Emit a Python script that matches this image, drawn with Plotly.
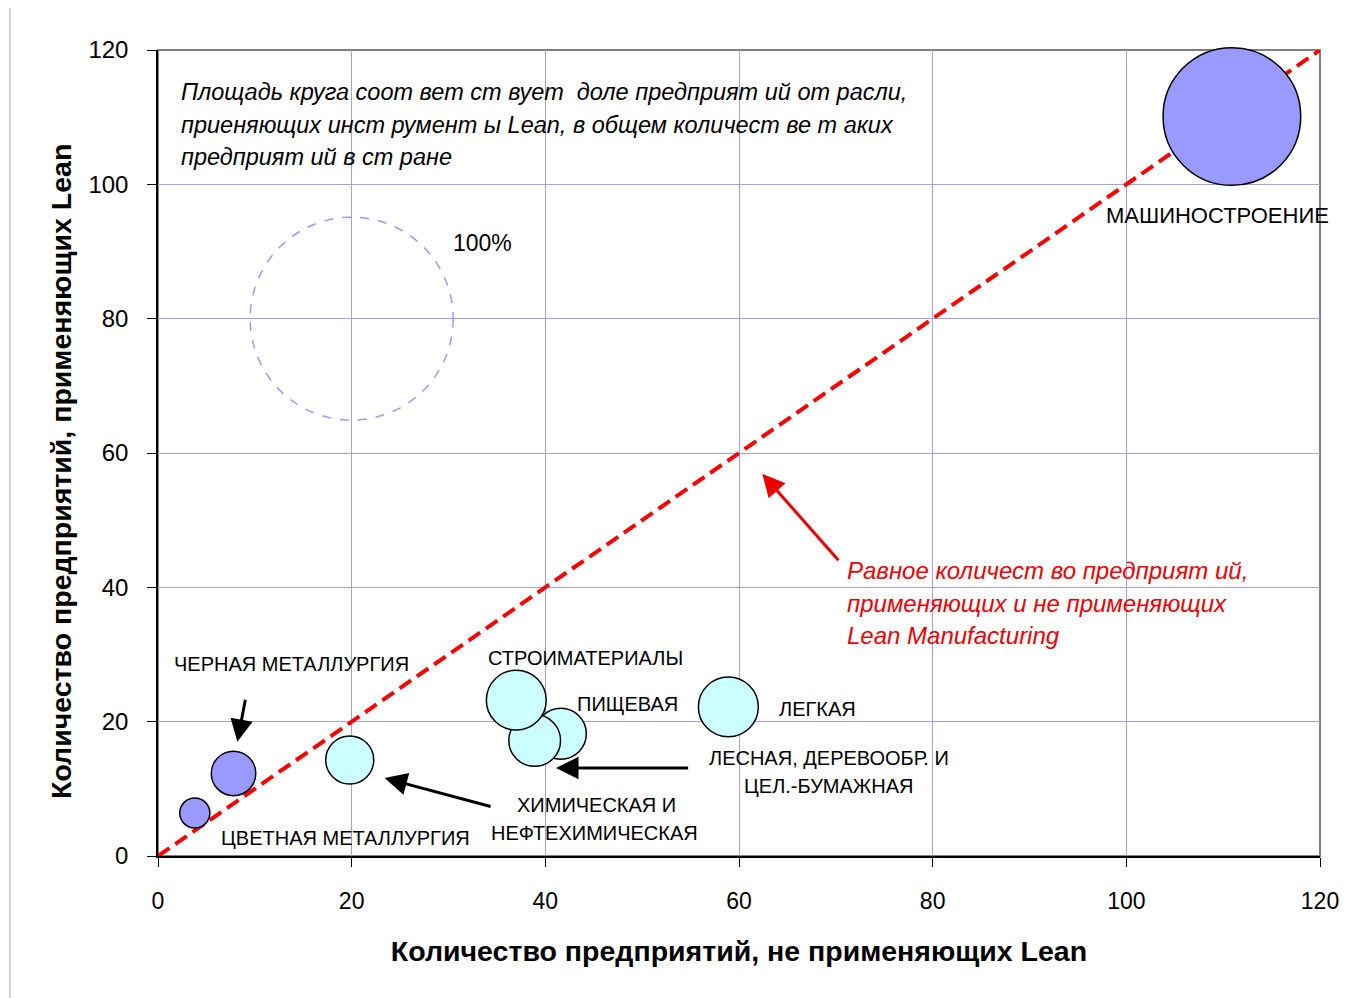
import plotly.graph_objects as go

# ---------------- data ----------------
industries = ["МАШИНОСТРОЕНИЕ", "ЧЕРНАЯ МЕТАЛЛУРГИЯ", "ЦВЕТНАЯ МЕТАЛЛУРГИЯ",
              "ХИМИЧЕСКАЯ И НЕФТЕХИМИЧЕСКАЯ", "ПИЩЕВАЯ",
              "ЛЕСНАЯ, ДЕРЕВООБР. И ЦЕЛ.-БУМАЖНАЯ", "СТРОИМАТЕРИАЛЫ", "ЛЕГКАЯ"]
not_lean = [110.9, 7.8, 3.8, 19.8, 41.6, 38.9, 37.0, 58.9]   # x
lean = [110.1, 12.3, 6.4, 14.3, 18.2, 17.2, 23.2, 22.2]       # y
share_pct = [46.0, 4.8, 2.2, 5.6, 6.3, 6.5, 8.7, 8.7]         # bubble area (%)
ref_share = 100.0
ref_x, ref_y = 20.0, 80.0
x_ticks = [0, 20, 40, 60, 80, 100, 120]
y_ticks = [0, 20, 40, 60, 80, 100, 120]
equal_line = [0, 120]

# ---------------- styles ----------------
BLUE = "#9999ff"
CYAN = "#ccffff"
fill = {"МАШИНОСТРОЕНИЕ": BLUE, "ЧЕРНАЯ МЕТАЛЛУРГИЯ": BLUE, "ЦВЕТНАЯ МЕТАЛЛУРГИЯ": BLUE}
FONT = "Liberation Sans, Arial, sans-serif"
REF_DIAM = 203.0
# plotly area mode: diameter = sqrt(2 * v / sizeref)
sizeref = 2 * ref_share / REF_DIAM ** 2

fig = go.Figure()

fig.add_trace(go.Scatter(
    x=equal_line, y=equal_line, mode="lines",
    line=dict(color="#ff0000", width=4, dash="14px,7px"),
    hoverinfo="skip", showlegend=False))

fig.add_trace(go.Scatter(
    x=not_lean, y=lean, mode="markers", text=industries,
    marker=dict(size=share_pct, sizemode="area", sizeref=sizeref,
                color=[fill.get(n, CYAN) for n in industries],
                opacity=1, line=dict(color="black", width=1.5)),
    showlegend=False, cliponaxis=False))

# reference 100% dashed circle
r = (2 * ref_share / sizeref) ** 0.5 / 2
fig.add_shape(type="circle", xref="x", yref="y", xsizemode="pixel", ysizemode="pixel",
              xanchor=ref_x, yanchor=ref_y, x0=-r, x1=r, y0=-r, y1=r,
              line=dict(color=BLUE, width=1.5, dash="dash"), layer="above")

# ---------------- labels ----------------
labels = [
    ("ЧЕРНАЯ МЕТАЛЛУРГИЯ", 13.8, 28.6, 20),
    ("ЦВЕТНАЯ МЕТАЛЛУРГИЯ", 19.4, 2.7, 20),
    ("СТРОИМАТЕРИАЛЫ", 44.1, 29.5, 20),
    ("ПИЩЕВАЯ", 48.5, 22.6, 20),
    ("ЛЕГКАЯ", 68.1, 21.9, 20),
    ("ЛЕСНАЯ, ДЕРЕВООБР. И", 69.3, 14.6, 20),
    ("ЦЕЛ.-БУМАЖНАЯ", 69.3, 10.4, 20),
    ("ХИМИЧЕСКАЯ И", 45.3, 7.6, 20),
    ("НЕФТЕХИМИЧЕСКАЯ", 45.1, 3.4, 20),
    ("МАШИНОСТРОЕНИЕ", 109.4, 95.4, 22),
]
for t, lx, ly, fs in labels:
    fig.add_annotation(x=lx, y=ly, text=t, showarrow=False, xanchor="center", yanchor="middle",
                       font=dict(family=FONT, size=fs, color="black"))

fig.add_annotation(x=33.5, y=91.3, text="100%", showarrow=False,
                   font=dict(family=FONT, size=23, color="black"))

note_lines = ["Площадь круга соот вет ст вует  доле предприят ий от расли,",
              "приеняющих инст румент ы Lean, в общем количест ве т аких",
              "предприят ий в ст ране"]
for i, t in enumerate(note_lines):
    fig.add_annotation(x=2.2, y=113.7 - i * 4.85, text="<i>" + t + "</i>", showarrow=False,
                       xanchor="left", yanchor="middle",
                       font=dict(family=FONT, size=23.5, color="black"))

red_lines = ["Равное количест во предприят ий,",
             "применяющих и не применяющих",
             "Lean Manufacturing"]
for i, t in enumerate(red_lines):
    fig.add_annotation(x=70.9, y=42.5 - i * 4.85, text="<i>" + t + "</i>", showarrow=False,
                       xanchor="left", yanchor="middle",
                       font=dict(family=FONT, size=24, color="#ee0000"))

# ---------------- arrows ----------------
arrows = [  # (tip x, tip y, tail x, tail y, color)
    (8.2, 17.0, 9.05, 23.5, "black"),
    (23.4, 11.6, 34.5, 7.3, "black"),
    (41.1, 13.1, 54.9, 13.1, "black"),
    (62.4, 56.9, 70.4, 43.8, "#ee0000"),
]
for tx, ty, sx, sy, c in arrows:
    fig.add_annotation(x=tx, y=ty, ax=sx, ay=sy, axref="x", ayref="y", xref="x", yref="y",
                       text="", showarrow=True, arrowhead=2, arrowsize=1.5, arrowwidth=3,
                       arrowcolor=c)

# ---------------- frame ----------------
OFF = 8  # page body offset
W, H = 1357, 998
PL, PR, PT, PB = 158, 1320, 50, 856   # plot area in screenshot pixels
L, T = PL - OFF, PT - OFF
R = W - (PR - OFF)
B = H - (PB - OFF)
pw, ph = W - L - R, H - T - B


def px(xp):
    return (xp - PL) / pw


def py(yp):
    return (PB - yp) / ph


fig.add_shape(type="rect", xref="paper", yref="paper", x0=0, x1=1, y0=0, y1=1,
              line=dict(color="#808080", width=2), layer="below")
fig.add_shape(type="line", xref="paper", yref="paper",
              x0=px(10), x1=px(1357), y0=py(6), y1=py(6),
              line=dict(color="#c8c8c8", width=1.5))
fig.add_shape(type="line", xref="paper", yref="paper",
              x0=px(10), x1=px(10), y0=py(6), y1=py(1000),
              line=dict(color="#c8c8c8", width=1.5))

# y-axis title (placed slightly below the plot centre, as in the original)
fig.add_annotation(xref="paper", yref="paper", x=px(61), y=py(472),
                   text="<b>Количество предприятий, применяющих Lean</b>",
                   textangle=-90, showarrow=False, xanchor="center", yanchor="middle",
                   font=dict(family=FONT, size=28.5, color="black"))

axis_common = dict(range=[0, 120], showgrid=True, gridcolor="#a0a0f0", gridwidth=1,
                   zeroline=False, showline=True, linecolor="black", linewidth=1.5,
                   ticks="outside", ticklen=9, tickcolor="black", tickwidth=1)

fig.update_layout(
    width=W, height=H,
    margin=dict(l=L, r=R, t=T, b=B, autoexpand=False),
    paper_bgcolor="white", plot_bgcolor="white",
    font=dict(family=FONT, color="black"),
    xaxis=dict(**axis_common, tickvals=x_ticks, ticktext=[str(v) for v in x_ticks],
               tickfont=dict(size=23), ticklabelstandoff=15,
               title=dict(text="<b>Количество предприятий, не применяющих Lean</b>",
                          font=dict(size=28.5), standoff=28)),
    yaxis=dict(**axis_common, tickvals=y_ticks, ticktext=[str(v) for v in y_ticks],
               tickfont=dict(size=24), ticklabelstandoff=14),
)

fig.write_html("out.html")
